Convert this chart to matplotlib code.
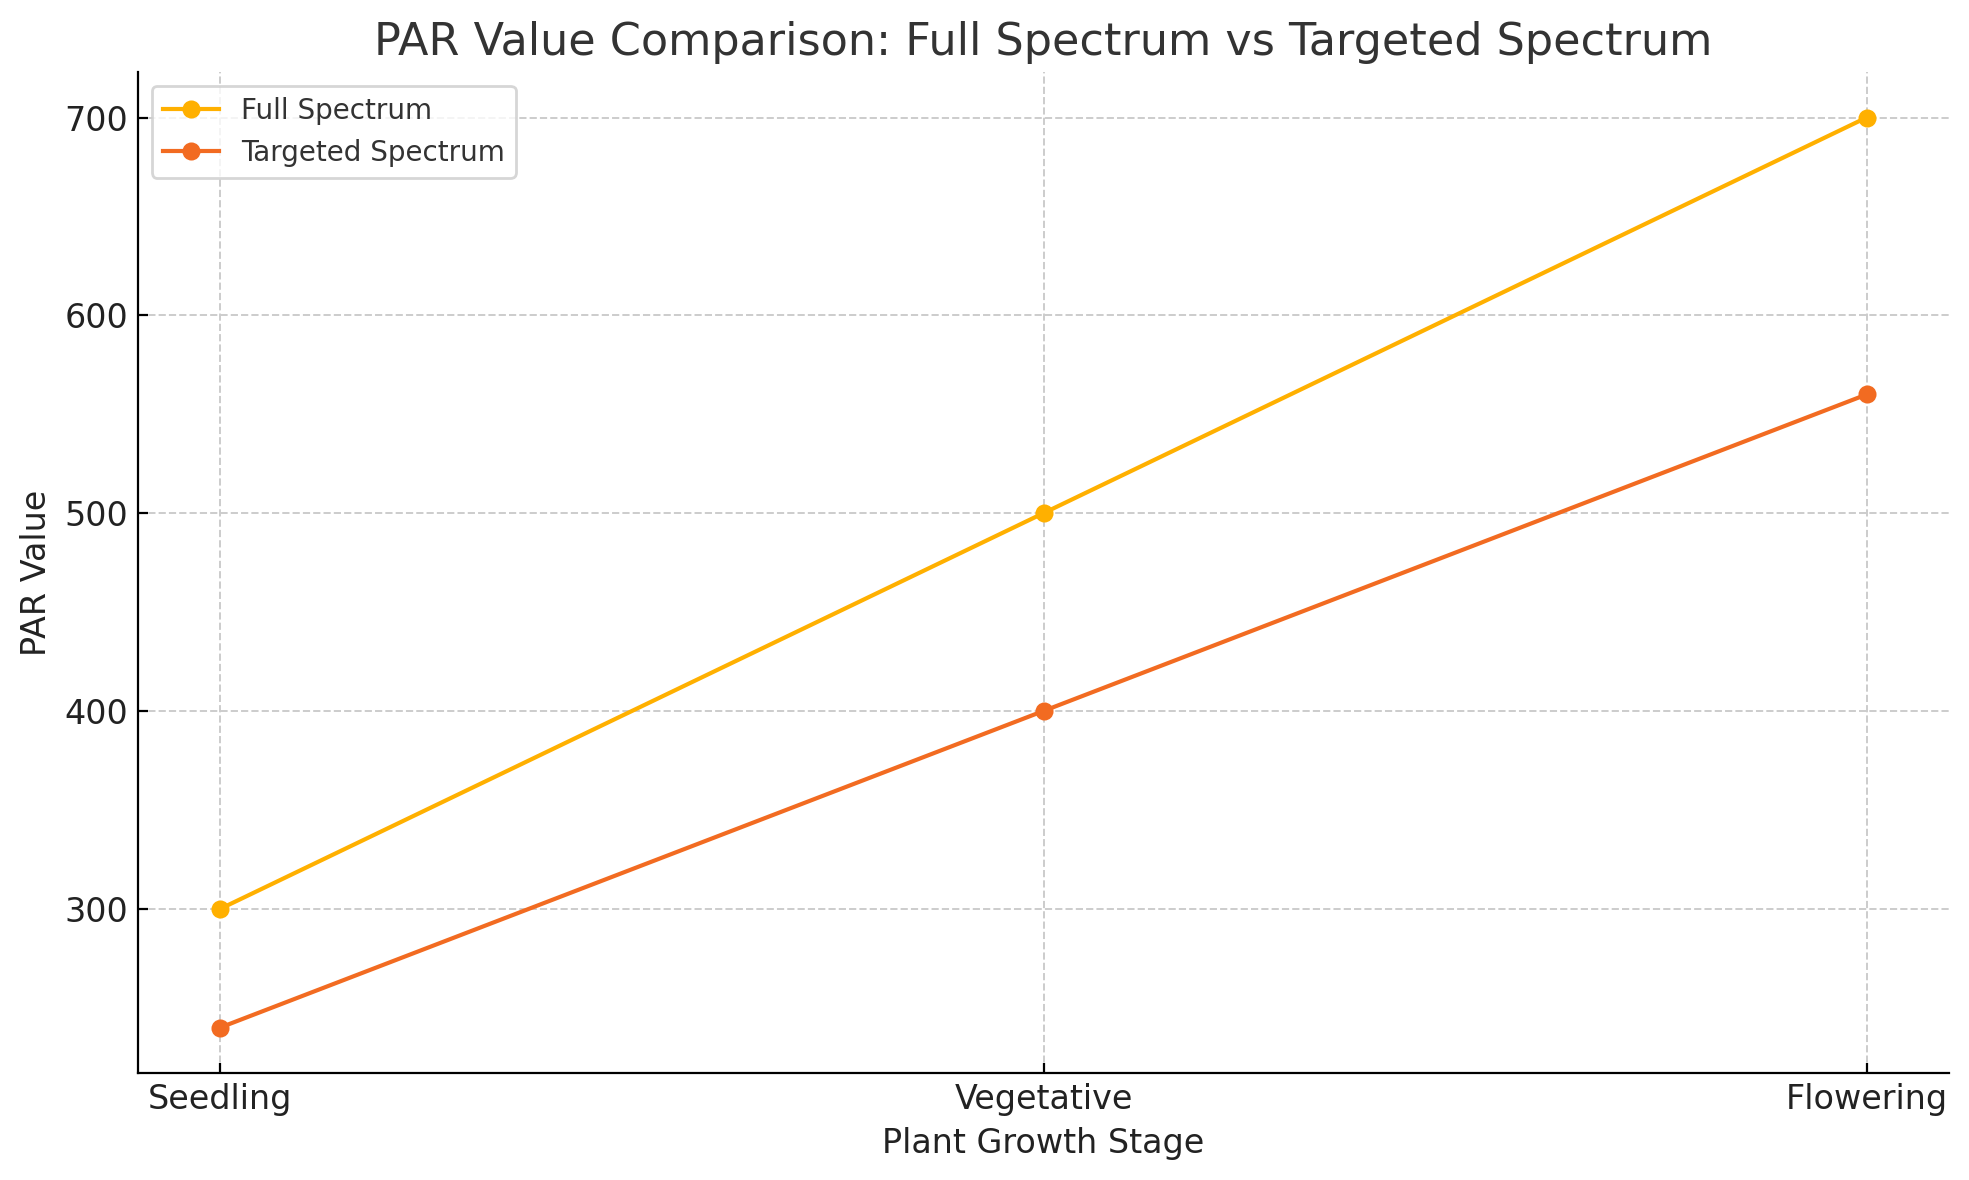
import matplotlib
matplotlib.use("Agg")
import matplotlib.pyplot as plt

stages = ["Seedling", "Vegetative", "Flowering"]
full_spectrum = [300, 500, 700]
targeted_spectrum = [240, 400, 560]

fig = plt.figure(figsize=(9.845, 5.9), dpi=200)
ax = fig.add_axes([138/1969, 1 - 1073/1180, (1949-138)/1969, (1073-72)/1180])

x = list(range(len(stages)))
ax.plot(x, full_spectrum, marker="o", color="#FFB000", lw=1.5, ms=5.5, label="Full Spectrum")
ax.plot(x, targeted_spectrum, marker="o", color="#F26B21", lw=1.5, ms=5.5, label="Targeted Spectrum")

ax.set_xticks(x)
ax.set_xticklabels(stages, fontsize=12, color="#222222")
ax.tick_params(axis="both", direction="in", labelsize=12, labelcolor="#222222")
ax.grid(True, linestyle="--", color="#cccccc", lw=0.7)
ax.spines["top"].set_visible(False)
ax.spines["right"].set_visible(False)
ax.set_xlabel("Plant Growth Stage", fontsize=12, color="#222222")
ax.set_ylabel("PAR Value", fontsize=12, color="#222222")
ax.set_title("PAR Value Comparison: Full Spectrum vs Targeted Spectrum", fontsize=16, color="#333333")
leg = ax.legend(loc="upper left", fontsize=10)
for t in leg.get_texts():
    t.set_color("#333333")

fig.savefig("out.png", dpi=200)
